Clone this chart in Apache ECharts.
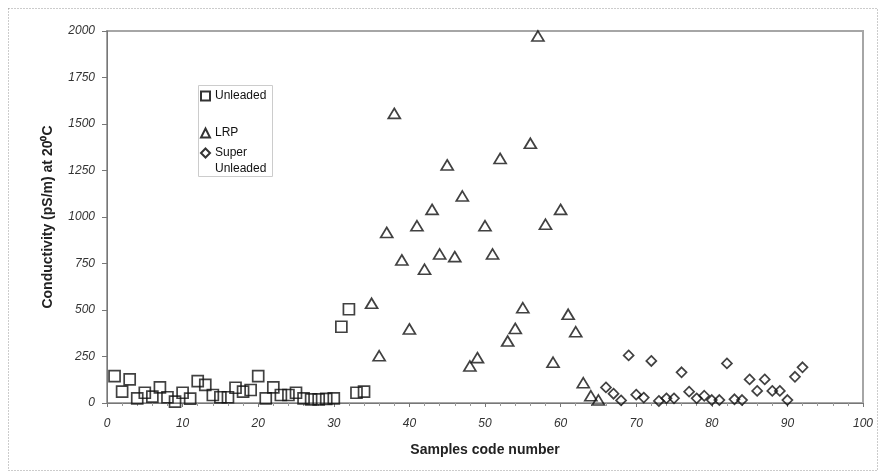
<!DOCTYPE html>
<html>
<head>
<meta charset="utf-8">
<script src="https://cdn.jsdelivr.net/npm/echarts@6/dist/echarts.min.js"></script>
<style>
  html, body { margin: 0; padding: 0; background: #fff; }
  #main { width: 882px; height: 475px; }
</style>
</head>
<body>
<div id="main"></div>
<script>
// sample numbers and conductivity values
const unleadedX = [1, 2, 3, 4, 5, 6, 7, 8, 9, 10, 11, 12, 13, 14, 15, 16, 17, 18, 19, 20,
  21, 22, 23, 24, 25, 26, 27, 28, 29, 30, 31, 32, 33, 34]
const unleadedY = [145, 61, 127, 25, 55, 34, 84, 31, 7, 55, 23, 118, 97, 43, 31, 31, 82, 61, 70, 145,
  25, 84, 43, 43, 55, 25, 20, 20, 22, 25, 410, 504, 55, 61]

const lrpX = [35, 36, 37, 38, 39, 40, 41, 42, 43, 44, 45, 46, 47, 48, 49, 50, 51, 52, 53, 54,
  55, 56, 57, 58, 59, 60, 61, 62, 63, 64, 65]
const lrpY = [536, 254, 917, 1557, 769, 398, 953, 719, 1041, 801, 1280, 787, 1113, 199, 244, 953, 801, 1315, 333, 401,
  512, 1396, 1973, 961, 219, 1041, 477, 383, 109, 39, 16]

const superX = [66, 67, 68, 69, 70, 71, 72, 73, 74, 75, 76, 77, 78, 79, 80, 81, 82, 83, 84, 85,
  86, 87, 88, 89, 90, 91, 92]
const superY = [84, 50, 14, 256, 45, 29, 226, 11, 25, 25, 165, 61, 25, 39, 16, 16, 213, 20, 16, 127,
  65, 127, 65, 65, 16, 141, 192]

const xTicks = [0, 10, 20, 30, 40, 50, 60, 70, 80, 90, 100]
const yTicks = [0, 250, 500, 750, 1000, 1250, 1500, 1750, 2000]

const pairs = (xs, ys) => xs.map((x, i) => [x, ys[i]])

let myChart = echarts.init(document.getElementById('main'))

let markStyle = {
    color: 'rgba(0,0,0,0)',
    borderColor: '#111',
    borderWidth: 1.7
}
let legendText = { fontSize: 12, color: '#111', lineHeight: 16 }
let legendIcon = { color: 'rgba(0,0,0,0)', borderColor: '#000', borderWidth: 2 }

let option = {
    animation: false,
    textStyle: { fontFamily: 'Liberation Sans, Arial, sans-serif' },
    graphic: [{
        type: 'rect',
        shape: { x: 8.5, y: 8.5, width: 869, height: 462 },
        style: { fill: 'none', stroke: '#999', lineWidth: 1, lineDash: [1, 2] },
        silent: true
    }, {
        // legend frame
        type: 'rect',
        shape: { x: 198.5, y: 85.5, width: 74, height: 91 },
        style: { fill: '#fff', stroke: '#ccc', lineWidth: 1 },
        silent: true,
        z: 0
    }],
    grid: {
        left: 107, right: 19, top: 31, bottom: 72,
        show: true,
        borderColor: '#a6a6a6',
        borderWidth: 2
    },
    legend: [{
        orient: 'vertical',
        left: 200, top: 88,
        padding: 0,
        itemGap: 21,
        itemWidth: 9, itemHeight: 9,
        itemStyle: legendIcon,
        textStyle: legendText,
        data: [
            { name: 'Unleaded', icon: 'rect' },
            { name: 'LRP', icon: 'triangle' }
        ]
    }, {
        orient: 'vertical',
        left: 200, top: 129,
        padding: 0,
        itemWidth: 9, itemHeight: 9,
        itemStyle: legendIcon,
        textStyle: legendText,
        // blank first line keeps the marker level with "Super"
        formatter: () => ' \nSuper\nUnleaded',
        data: [
            { name: 'Super Unleaded', icon: 'diamond' }
        ]
    }],
    xAxis: {
        type: 'value',
        min: 0, max: 100, interval: 10,
        name: 'Samples code number',
        nameLocation: 'middle',
        nameGap: 40,
        nameTextStyle: { fontSize: 14, fontWeight: 'bold', color: '#222' },
        axisLine: { show: true, lineStyle: { color: '#777', width: 1 } },
        axisTick: { show: true, length: 4, lineStyle: { color: '#777' } },
        minorTick: { show: true, splitNumber: 5, length: 3, lineStyle: { color: '#999' } },
        splitLine: { show: false },
        axisLabel: {
            margin: 15, fontSize: 12, fontStyle: 'italic', color: '#333',
            formatter: v => xTicks.includes(v) ? String(v) : ''
        }
    },
    yAxis: {
        type: 'value',
        min: 0, max: 2000, interval: 250,
        name: 'Conductivity (pS/m) at 20⁰C',
        nameLocation: 'middle',
        nameGap: 52,
        nameTextStyle: { fontSize: 14, fontWeight: 'bold', color: '#222' },
        axisLine: { show: true, lineStyle: { color: '#777', width: 1 } },
        axisTick: { show: true, length: 5, lineStyle: { color: '#777' } },
        splitLine: { show: false },
        axisLabel: {
            margin: 12, fontSize: 12, fontStyle: 'italic', color: '#333',
            formatter: v => yTicks.includes(v) ? String(v) : ''
        }
    },
    series: [{
        name: 'Unleaded',
        type: 'scatter',
        symbol: 'rect',
        symbolSize: 11,
        itemStyle: markStyle,
        data: pairs(unleadedX, unleadedY)
    }, {
        name: 'LRP',
        type: 'scatter',
        symbol: 'triangle',
        symbolSize: [12, 10],
        itemStyle: markStyle,
        data: pairs(lrpX, lrpY)
    }, {
        name: 'Super Unleaded',
        type: 'scatter',
        symbol: 'diamond',
        symbolSize: 10,
        itemStyle: markStyle,
        data: pairs(superX, superY)
    }]
}
myChart.setOption(option)
</script>
</body>
</html>
